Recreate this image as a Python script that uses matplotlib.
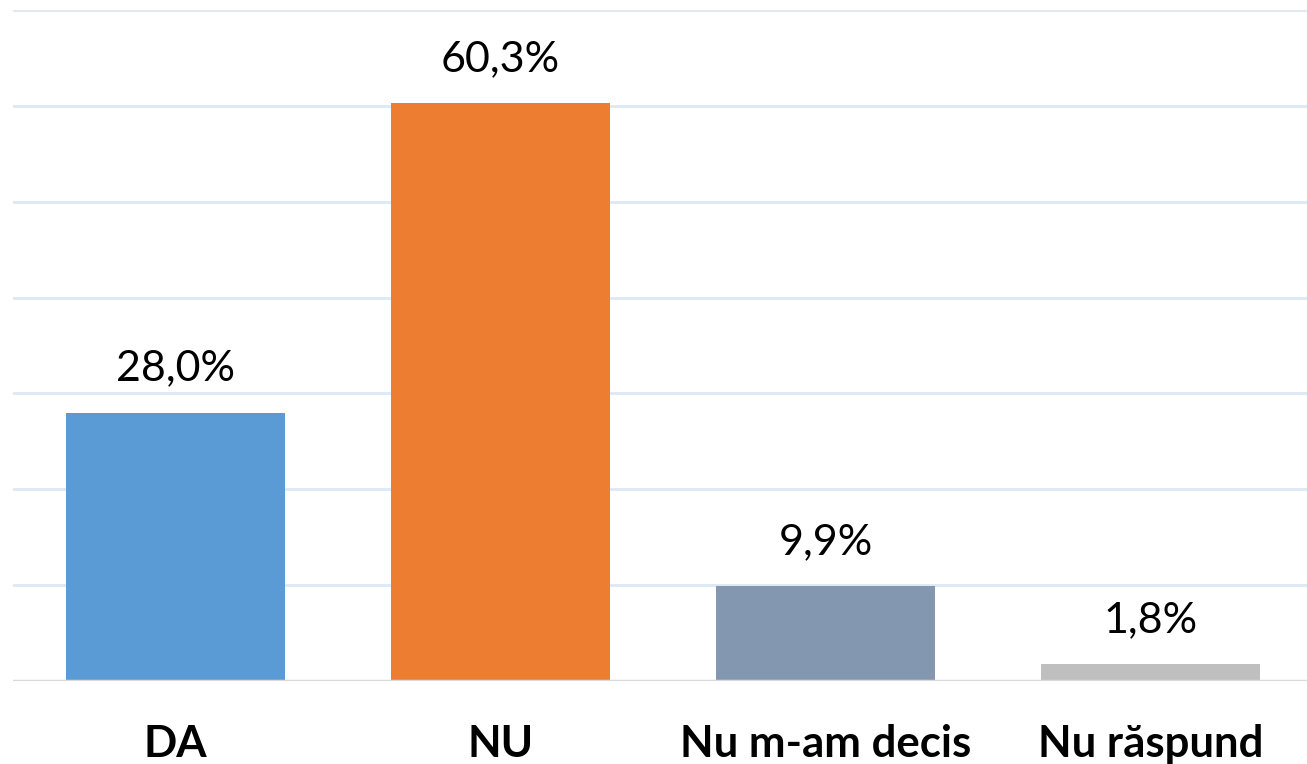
import matplotlib.pyplot as plt
import numpy as np

categories = ['DA', 'NU', 'Nu m-am decis', 'Nu răspund']
values = [28.0, 60.3, 9.9, 1.8]
labels = ['28,0%', '60,3%', '9,9%', '1,8%']
colors = ['#5b9bd5', '#ed7d31', '#8497b0', '#bfbfbf']

plt.rcParams['font.family'] = ['Lato', 'DejaVu Sans']

fig = plt.figure(figsize=(13.07, 7.64), dpi=100)
ax = fig.add_axes([13 / 1307, 83 / 764, 1300 / 1307, 671 / 764])

x = np.arange(len(categories))
bars = ax.bar(x, values, width=0.674, color=colors, zorder=3)

ax.set_xlim(-0.5, 3.5)
ax.set_ylim(0, 70)
ax.set_yticks(np.arange(10, 71, 10))
ax.yaxis.grid(True, color='#dde8f3', linewidth=2)
ax.axhline(0, color='#d9d9d9', linewidth=2.5, zorder=4)

for bar, lab in zip(bars, labels):
    ax.annotate(lab, (bar.get_x() + bar.get_width() / 2, bar.get_height()),
                xytext=(0, 18), textcoords='offset points',
                ha='center', va='bottom', fontsize=31, color='#000000')

ax.set_xticks(x)
ax.set_xticklabels(categories, fontsize=31.5, fontweight='bold')
ax.tick_params(axis='x', length=0, pad=31)
ax.tick_params(axis='y', length=0, labelleft=False)
for s in ax.spines.values():
    s.set_visible(False)

fig.savefig('out.png', dpi=100)
